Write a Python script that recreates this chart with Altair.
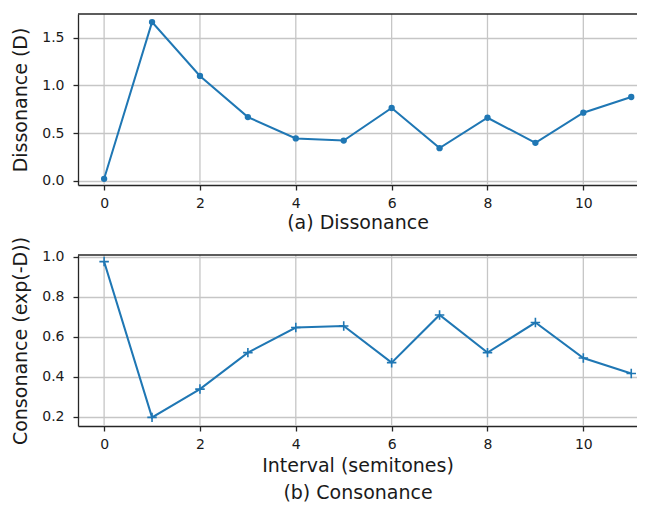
import altair as alt
import pandas as pd

# ---- data ----
interval = list(range(12))
dissonance = [0.02, 1.665, 1.10, 0.668, 0.444, 0.421, 0.763, 0.342, 0.661, 0.398, 0.714, 0.879]
consonance = [0.975, 0.198, 0.339, 0.521, 0.646, 0.654, 0.471, 0.709, 0.521, 0.671, 0.494, 0.417]
x_ticks = [0, 2, 4, 6, 8, 10]
d_ticks = [0.0, 0.5, 1.0, 1.5]
c_ticks = [0.2, 0.4, 0.6, 0.8, 1.0]

df = pd.DataFrame({"interval": interval, "D": dissonance, "C": consonance})
grid_df = pd.DataFrame({"t": x_ticks})
one_df = pd.DataFrame({"s": [0]})

BLUE = "#1f77b4"
DARK = "#262626"
GRID = "#c6c6c6"
FONT = "DejaVu Sans"

W = 559          # plot width
H = 412          # whole stacked view height
TOP_H = 171      # top panel height
BOT_Y0 = 241     # top edge of the lower panel

xdom = [-0.545, 11.12]

axis_style = dict(
    labelFont=FONT, labelFontSize=14, labelColor="#1a1a1a",
    titleFont=FONT, titleFontSize=19, titleFontWeight="normal", titleColor="#1a1a1a",
    domainColor=DARK, domainWidth=1.3, tickColor=DARK, tickWidth=1.3, tickSize=5,
    gridColor=GRID, gridWidth=1.3,
)


def xscale():
    return alt.Scale(domain=xdom, nice=False, zero=False)


grid_top = alt.Chart(grid_df).mark_rule(color=GRID, strokeWidth=1.3).encode(
    x=alt.X("t:Q", scale=xscale(), axis=None), y=alt.value(0), y2=alt.value(TOP_H)
)
grid_bot = alt.Chart(grid_df).mark_rule(color=GRID, strokeWidth=1.3).encode(
    x=alt.X("t:Q", scale=xscale(), axis=None), y=alt.value(BOT_Y0), y2=alt.value(H)
)

top_line = alt.Chart(df).mark_line(
    color=BLUE, strokeWidth=2,
    point=alt.OverlayMarkDef(filled=True, size=40, color=BLUE, opacity=1),
).encode(
    x=alt.X("interval:Q", scale=xscale(),
            axis=alt.Axis(orient="bottom", offset=TOP_H - H, values=x_ticks, format="d",
                          title="(a) Dissonance", grid=False,
                          labelPadding=6, titlePadding=3, labelFlush=False, **axis_style)),
    y=alt.Y("D:Q", scale=alt.Scale(domain=[-0.045, 1.75], range=[TOP_H, 0], nice=False, zero=False),
            axis=alt.Axis(orient="left", values=d_ticks, format=".1f", title="Dissonance (D)",
                          grid=True, labelPadding=9, titlePadding=11, **axis_style)),
)

bot_line = alt.Chart(df).mark_line(
    color=BLUE, strokeWidth=2,
    point=alt.OverlayMarkDef(shape="M-1,0L1,0M0,-1L0,1", filled=False, size=90,
                             stroke=BLUE, strokeWidth=1.6, opacity=1),
).encode(
    x=alt.X("interval:Q", scale=xscale(),
            axis=alt.Axis(orient="bottom", values=x_ticks, format="d",
                          title=["Interval (semitones)", "(b) Consonance"],
                          titleLineHeight=27, grid=False,
                          labelPadding=6, titlePadding=5, labelFlush=False, **axis_style)),
    y=alt.Y("C:Q", scale=alt.Scale(domain=[0.155, 1.008], range=[H, BOT_Y0], nice=False, zero=False),
            axis=alt.Axis(orient="left", values=c_ticks, format=".1f", title="Consonance (exp(-D))",
                          grid=True, labelPadding=9, titlePadding=11, **axis_style)),
)

spine_top = alt.Chart(one_df).mark_rule(color=DARK, strokeWidth=1.3).encode(
    x=alt.value(0), x2=alt.value(W), y=alt.value(0)
)
spine_bot = alt.Chart(one_df).mark_rule(color=DARK, strokeWidth=1.3).encode(
    x=alt.value(0), x2=alt.value(W), y=alt.value(BOT_Y0)
)

chart = alt.layer(
    grid_top, grid_bot, top_line, bot_line, spine_top, spine_bot
).resolve_scale(
    x="independent", y="independent"
).properties(
    width=W, height=H,
    autosize=alt.AutoSizeParams(type="none"),
    padding={"left": 70, "top": 6, "right": 0, "bottom": 78},
    background="white",
).configure_view(stroke=None)

chart.save("out.html", embed_options={"renderer": "svg", "actions": False})
